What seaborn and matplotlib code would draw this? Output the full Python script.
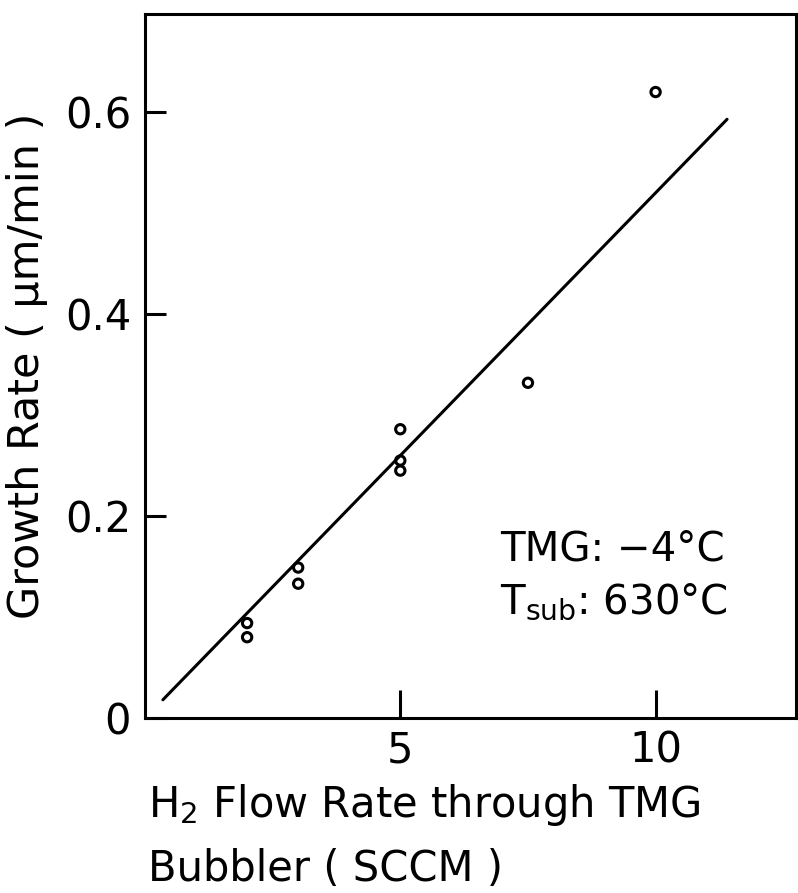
import matplotlib
matplotlib.use("Agg")
import matplotlib.pyplot as plt
import seaborn as sns
import pandas as pd

# data
flow_rate = [2, 2, 3, 3, 5, 5, 5, 7.5, 10]
growth_rate = [0.094, 0.080, 0.149, 0.133, 0.286, 0.255, 0.245, 0.332, 0.620]
fit_x = [0.35, 11.4]
fit_y = [0.018, 0.593]
x_ticks = [5, 10]
y_ticks = [0, 0.2, 0.4, 0.6]
y_ticklabels = ["0", "0.2", "0.4", "0.6"]

sns.set_theme(style="white")
plt.rcParams['font.family'] = ['DejaVu Sans']
plt.rcParams['mathtext.fontset'] = 'dejavusans'
plt.rcParams['text.color'] = 'black'
plt.rcParams['axes.labelcolor'] = 'black'

fig = plt.figure(figsize=(7.98, 8.93), dpi=100)
ax = fig.add_axes([0.1817, 0.196, 0.8158, 0.788])

pts = pd.DataFrame({"x": flow_rate, "y": growth_rate})
fit = pd.DataFrame({"x": fit_x, "y": fit_y})

sns.lineplot(data=fit, x="x", y="y", ax=ax, color="black", linewidth=2.2)
sns.scatterplot(data=pts, x="x", y="y", ax=ax, marker="o", s=45,
                facecolor="none", edgecolor="black", linewidth=2.2, zorder=5)

ax.set_xlim(0, 12.75)
ax.set_ylim(0, 0.697)
ax.set_xticks(x_ticks)
ax.set_xticklabels([str(t) for t in x_ticks])
ax.set_yticks(y_ticks)
ax.set_yticklabels(y_ticklabels)

for s in ax.spines.values():
    s.set_linewidth(2.2)
    s.set_color("black")

ax.tick_params(axis="x", bottom=True, direction="in", length=20, width=2.2,
               labelsize=30, pad=8, colors="black")
ax.tick_params(axis="y", left=True, direction="in", length=15, width=2.2,
               labelsize=30, pad=10, colors="black")

ax.set_xlabel("")
ax.set_ylabel("Growth Rate ( μm/min )", fontsize=31, labelpad=12)

fig.text(0.185, 0.098, "H$_2$ Flow Rate through TMG", fontsize=30, ha="left", va="center")
fig.text(0.185, 0.027, "Bubbler ( SCCM )", fontsize=30, ha="left", va="center")

ax.text(0.545, 0.239, "TMG: −4°C", transform=ax.transAxes, fontsize=29, ha="left", va="center")
ax.text(0.545, 0.165, "T$_{\\mathrm{sub}}$: 630°C", transform=ax.transAxes, fontsize=29, ha="left", va="center")

fig.savefig("out.png", dpi=100)
